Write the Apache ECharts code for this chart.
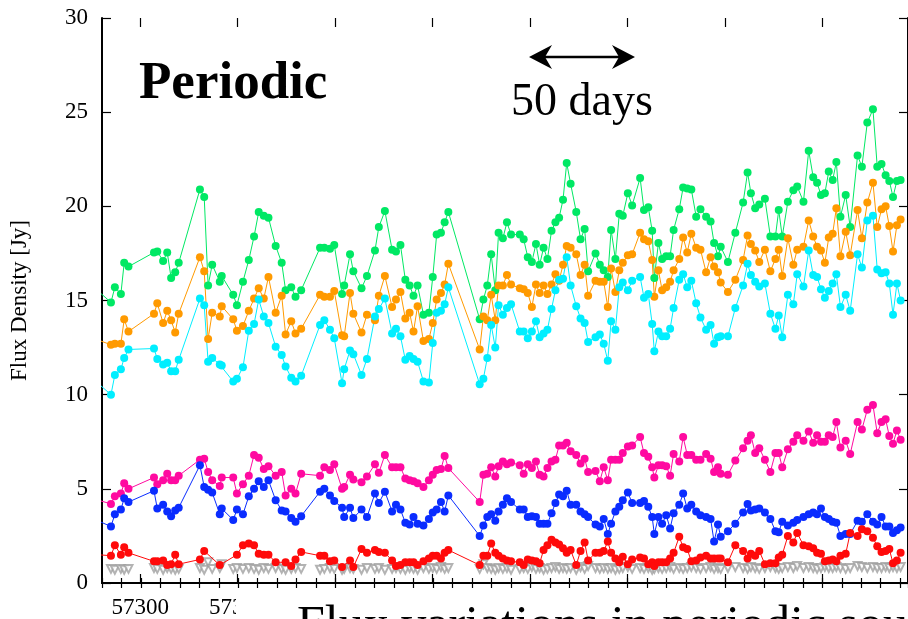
<!DOCTYPE html>
<html>
<head>
<meta charset="utf-8">
<script src="https://cdn.jsdelivr.net/npm/echarts@6/dist/echarts.min.js"></script>
<style>
html,body{margin:0;padding:0;background:#fff;}
#chart{width:908px;height:619px;}
</style>
</head>
<body>
<div id="chart"></div>
<script>
// Observation dates (MJD)
const days = [
57278.0, 57284.6, 57286.6, 57289.7, 57291.4, 57293.6, 57306.7, 57308.4, 57311.4, 57313.5,
57315.5, 57317.6, 57319.4, 57330.3, 57332.5, 57334.5, 57336.6, 57340.5, 57341.5, 57347.4,
57349.3, 57352.4, 57355.4, 57358.1, 57360.5, 57363.1, 57365.5, 57369.2, 57372.3, 57374.3,
57377.2, 57379.4, 57382.3, 57392.0, 57394.2, 57397.1, 57399.3, 57403.3, 57404.4, 57407.4,
57409.1, 57413.3, 57416.1, 57420.2, 57422.2, 57425.3, 57429.0, 57431.0, 57433.3, 57435.8,
57438.0, 57440.0, 57442.1, 57445.1, 57447.9, 57449.9, 57451.9, 57454.1, 57456.0, 57457.9,
57474.0, 57475.9, 57477.9, 57479.9, 57482.0, 57483.7, 57485.9, 57488.0, 57490.1, 57494.6,
57496.6, 57498.7, 57500.8, 57502.9, 57504.8, 57506.8, 57508.8, 57510.9, 57512.9, 57514.8,
57516.8, 57518.7, 57520.7, 57523.6, 57525.8, 57527.9, 57529.7, 57533.5, 57535.7, 57537.7,
57539.8, 57541.5, 57543.7, 57545.7, 57547.5, 57550.1, 57552.3, 57556.4, 57558.4, 57560.6,
57562.6, 57563.7, 57565.8, 57567.7, 57569.8, 57571.8, 57573.6, 57576.5, 57578.5, 57580.6,
57582.7, 57585.2, 57587.4, 57590.3, 57592.6, 57594.4, 57596.4, 57597.8, 57601.5, 57605.3,
57609.3, 57611.6, 57613.3, 57615.5, 57617.6, 57620.5, 57623.3, 57625.9, 57627.6, 57629.4,
57632.3, 57635.1, 57637.1, 57640.3, 57643.0, 57645.3, 57647.3, 57649.3, 57651.3, 57653.3,
57655.3, 57657.2, 57659.3, 57662.0, 57664.3, 57668.1, 57670.3, 57673.1, 57676.0, 57678.2,
57680.4, 57682.5, 57684.4, 57686.3, 57688.3, 57690.2
];

const greenFlux = [
15.5, 14.9, 15.7, 15.35, 17.0, 16.8, 17.55, 17.6, 17.1, 17.55,
16.2, 16.5, 17.0, 20.9, 20.5, 15.8, 16.9, 16.0, 16.3, 15.3,
14.75, 16.0, 17.15, 18.4, 19.7, 19.5, 19.4, 17.9, 17.0, 15.55,
15.7, 15.2, 15.55, 17.8, 17.8, 17.75, 17.95, 15.35, 15.8, 17.45,
16.55, 15.65, 16.3, 17.65, 18.9, 19.75, 17.7, 17.6, 17.95, 16.1,
15.8, 15.25, 15.8, 14.25, 14.35, 16.25, 18.5, 18.6, 19.15, 19.7,
14.0, 15.05, 15.8, 17.45, 15.55, 18.6, 18.3, 19.15, 18.5, 18.5,
18.25, 17.3, 17.05, 18.0, 16.9, 17.8, 17.2, 18.7, 19.15, 19.4,
20.35, 22.3, 21.2, 19.7, 18.25, 18.8, 16.55, 17.5, 16.9, 16.6,
16.25, 18.75, 17.2, 19.6, 19.5, 20.7, 20.05, 21.5, 19.8, 19.95,
18.7, 16.2, 18.05, 17.2, 17.35, 17.35, 18.75, 19.85, 21.0, 20.95,
20.9, 19.45, 19.85, 19.45, 19.2, 18.05, 17.35, 17.85, 17.05, 18.6,
20.2, 21.8, 20.7, 19.9, 20.1, 20.4, 18.4, 18.4, 19.8, 18.4,
20.25, 20.85, 21.05, 20.25, 22.95, 21.55, 21.25, 20.6, 20.7, 21.85,
21.4, 22.35, 19.45, 20.6, 18.9, 22.7, 22.1, 24.45, 25.15, 22.1,
22.25, 21.65, 21.35, 20.5, 21.35, 21.4
];

const orangeFlux = [
12.9, 12.65, 12.7, 12.7, 14.0, 13.35, 14.3, 14.85, 13.8, 14.45,
13.95, 13.3, 14.3, 17.3, 16.55, 12.95, 14.35, 14.15, 14.7, 14.0,
13.4, 13.65, 14.45, 15.1, 15.65, 15.1, 16.25, 14.35, 15.25, 13.2,
13.9, 13.25, 13.5, 15.3, 15.2, 15.2, 15.5, 13.15, 13.1, 15.4,
14.3, 13.3, 14.25, 13.95, 15.25, 16.3, 14.65, 15.05, 15.45, 14.05,
14.35, 13.35, 14.7, 12.85, 12.95, 13.8, 15.05, 15.4, 15.85, 16.95,
12.4, 14.15, 13.95, 15.3, 13.95, 15.8, 15.8, 16.35, 15.85, 15.65,
15.6, 15.4, 14.65, 15.85, 15.4, 15.8, 15.35, 15.85, 16.4, 16.05,
16.9, 17.9, 17.8, 17.45, 16.35, 16.9, 15.25, 16.05, 16.0, 16.0,
14.65, 16.7, 15.45, 16.6, 17.0, 17.4, 17.45, 18.6, 18.25, 18.15,
17.15, 15.2, 16.6, 15.55, 15.7, 16.0, 16.6, 17.2, 18.35, 17.55,
18.55, 17.8, 17.7, 16.5, 17.3, 16.8, 16.5, 15.95, 15.45, 16.1,
17.15, 18.45, 18.0, 17.65, 17.05, 17.7, 16.55, 17.2, 17.7, 16.3,
18.3, 16.9, 17.7, 17.85, 19.25, 18.4, 17.85, 17.65, 17.0, 18.35,
18.55, 19.9, 17.35, 18.65, 17.4, 19.8, 18.3, 20.2, 21.25, 18.9,
19.85, 20.0, 18.95, 17.6, 19.0, 19.3
];

const cyanFlux = [
10.6, 10.0, 11.05, 11.35, 11.95, 12.4, 12.45, 11.9, 11.6, 11.7,
11.25, 11.25, 11.85, 15.1, 14.75, 11.75, 11.95, 11.6, 11.55, 10.7,
10.85, 11.45, 13.4, 13.75, 15.05, 14.15, 13.8, 12.55, 12.1, 11.5,
10.9, 10.7, 11.0, 13.7, 13.95, 13.45, 13.0, 10.6, 11.35, 12.35,
12.15, 11.05, 11.9, 14.15, 14.55, 15.1, 13.25, 13.5, 13.1, 11.85,
12.05, 11.9, 11.75, 10.7, 10.65, 12.75, 14.35, 14.45, 14.8, 15.7,
10.55, 10.85, 11.95, 13.7, 12.5, 14.75, 14.25, 14.6, 14.8, 13.35,
13.35, 13.0, 13.35, 13.9, 13.05, 13.25, 13.45, 14.55, 15.55, 16.1,
16.15, 17.3, 15.8, 14.7, 14.05, 13.8, 12.8, 13.05, 13.2, 12.7,
11.8, 13.9, 13.45, 15.7, 15.95, 15.55, 16.05, 16.25, 15.15, 15.35,
13.75, 12.3, 13.35, 13.1, 13.1, 13.5, 14.6, 16.1, 16.4, 15.7,
16.05, 14.85, 14.1, 13.45, 13.7, 12.7, 13.05, 13.1, 13.1, 14.6,
15.8, 16.95, 16.35, 16.0, 15.75, 15.9, 14.3, 13.5, 14.2, 13.05,
15.3, 14.8, 16.4, 15.75, 17.65, 16.35, 16.25, 15.6, 15.15, 15.5,
15.9, 16.4, 14.65, 15.3, 14.45, 17.45, 16.75, 19.25, 19.5, 16.65,
16.45, 16.5, 15.9, 14.25, 15.9, 15.0
];

const magentaFlux = [
4.4, 4.2, 4.6, 4.75, 5.3, 5.0, 5.6, 5.25, 5.45, 5.8,
5.45, 5.45, 5.7, 6.55, 6.6, 5.9, 5.45, 5.15, 5.6, 5.6,
4.75, 5.25, 5.7, 6.8, 6.65, 6.05, 6.2, 5.7, 5.9, 4.65,
5.0, 4.75, 5.8, 5.7, 6.15, 6.0, 6.3, 5.0, 5.1, 5.75,
5.5, 5.35, 5.65, 6.3, 5.85, 6.8, 6.15, 6.15, 6.15, 5.55,
5.45, 5.4, 5.3, 5.1, 5.45, 5.75, 6.0, 6.05, 6.75, 6.1,
4.3, 5.75, 5.8, 6.15, 5.65, 6.2, 6.45, 6.3, 6.4, 6.25,
5.8, 6.3, 6.1, 6.45, 5.75, 5.65, 6.1, 6.45, 6.55, 7.3,
7.3, 7.45, 7.0, 6.8, 6.35, 6.6, 5.9, 5.95, 5.4, 6.15,
5.45, 6.55, 6.55, 6.55, 6.9, 7.25, 7.3, 7.75, 6.9, 6.7,
6.15, 5.6, 6.25, 6.25, 6.2, 5.7, 6.85, 6.45, 7.75, 6.8,
6.8, 6.55, 6.55, 6.85, 6.6, 5.9, 6.15, 5.8, 5.75, 6.5,
7.15, 7.55, 7.85, 6.9, 7.15, 6.55, 5.9, 6.9, 6.9, 6.15,
7.1, 7.5, 7.85, 7.55, 8.05, 7.45, 7.85, 7.5, 7.5, 7.85,
7.75, 8.55, 7.2, 7.55, 6.85, 8.55, 8.15, 9.2, 9.45, 7.95,
8.55, 8.7, 7.8, 7.4, 8.1, 7.6
];

const blueFlux = [
3.3, 3.0, 3.65, 3.9, 4.5, 4.3, 4.9, 3.95, 4.15, 3.8,
3.55, 3.85, 4.0, 6.25, 5.1, 4.95, 4.8, 3.65, 3.95, 3.35,
3.9, 3.65, 4.6, 5.0, 5.4, 5.1, 5.45, 4.4, 3.85, 3.8,
3.45, 3.25, 3.55, 4.85, 5.0, 4.65, 4.35, 4.0, 3.5, 4.0,
3.45, 3.9, 3.5, 4.75, 4.25, 4.85, 3.8, 4.15, 3.9, 3.2,
3.1, 3.5, 3.15, 3.05, 3.4, 3.75, 3.9, 4.3, 3.8, 4.65,
2.5, 3.05, 3.5, 3.65, 3.3, 3.8, 4.15, 4.5, 4.3, 3.9,
3.9, 3.5, 3.55, 3.5, 3.15, 3.15, 3.15, 3.7, 4.25, 4.7,
4.6, 4.9, 4.15, 4.15, 3.8, 3.65, 3.5, 3.1, 3.0, 3.4,
2.6, 3.15, 3.8, 4.05, 4.4, 4.8, 4.25, 4.25, 4.35, 4.05,
3.5, 2.6, 3.5, 3.15, 3.6, 2.9, 3.7, 4.15, 4.75, 3.95,
4.15, 3.8, 3.6, 3.5, 3.4, 2.2, 3.1, 2.45, 2.75, 3.15,
3.75, 4.2, 3.85, 3.9, 3.95, 3.75, 3.4, 2.75, 2.7, 3.25,
3.05, 3.2, 3.35, 3.5, 3.65, 3.75, 3.65, 3.95, 3.5, 3.4,
3.25, 3.2, 2.5, 2.6, 2.6, 3.3, 3.25, 3.65, 3.25, 3.1,
3.5, 3.0, 3.0, 2.65, 2.8, 2.95
];

const redFlux = [
1.5, 1.45, 2.0, 1.5, 1.9, 1.6, 1.15, 1.15, 1.2, 0.95,
1.0, 1.5, 1.0, 1.25, 1.7, null, null, 0.95, null, null,
1.5, 2.0, 2.1, 2.0, 1.55, 1.5, 1.5, 1.1, null, 1.1,
0.9, 1.25, 1.65, 1.45, 1.45, 1.15, 1.2, 0.85, null, 1.2,
0.85, 1.8, 1.6, 1.75, 1.65, 1.6, 1.2, 0.9, 0.95, 1.1,
1.1, 1.1, 0.95, 1.15, 1.3, 1.45, 1.45, 1.3, 1.6, 1.75,
0.95, 1.45, 1.45, 2.1, 1.6, 1.45, 1.3, 1.2, 1.15, 1.1,
0.95, 1.25, 1.2, 1.15, 1.05, 1.75, 2.0, 2.3, 2.15, 2.05,
1.85, 1.6, 1.75, 0.95, 1.7, 2.15, 1.2, 1.6, 1.6, 1.7,
2.2, 1.6, 1.3, 1.1, 1.4, 1.0, 1.25, 1.35, 1.3, 1.0,
1.1, 0.9, 1.1, 1.1, 1.1, 1.3, 1.6, 2.45, 1.9, 1.8,
1.15, 1.2, 1.35, 1.45, 1.3, 1.3, 1.3, 1.3, 1.1, 2.0,
1.7, 1.3, 1.55, 1.45, 1.7, 1.0, 1.05, 1.05, 1.35, 1.5,
2.5, 2.15, 2.65, 2.0, 1.95, 1.85, 1.6, 1.55, 1.15, 1.2,
1.25, 1.15, 1.45, 1.55, 2.65, 2.5, 2.85, 2.75, 2.4, 1.95,
1.65, 1.7, 1.8, 1.05, 1.2, 1.6
];

// Upper limits (grey open triangles)
const upperLimits = [
0.8, 0.75, 0.7, 0.75, 0.7, 0.75, 0.8, 0.75, 0.7, 0.8,
0.75, 0.7, 0.75, 0.8, 0.7, 1.1, 0.75, 0.8, 1.0, 0.75,
0.8, 0.75, 0.8, 0.75, 0.7, 0.8, 0.75, 0.8, 0.75, 0.7,
0.75, 0.8, 0.75, 0.7, 0.75, 0.8, 0.75, 0.7, 0.75, 0.8,
0.75, 0.7, 0.8, 0.75, 0.8, 0.7, 0.75, 0.8, 0.75, 0.7,
0.8, 0.75, 0.7, 0.8, 0.75, 0.8, 0.75, 0.85, 0.75, 0.8,
0.75, 1.0, 0.8, 0.75, 0.7, 0.8, 0.75, 0.8, 0.7, 0.75,
0.8, 0.75, 0.85, 0.75, 0.8, 0.7, 0.75, 0.8, 0.85, 0.75,
0.8, 0.75, 0.8, 0.7, 0.85, 0.75, 0.9, 0.8, 0.75, 0.8,
0.75, 0.8, 0.7, 0.75, 0.8, 0.85, 0.75, 0.8, 0.75, 0.8,
0.7, 0.75, 0.8, 0.75, 0.8, 0.85, 0.75, 0.8, 0.75, 0.8,
0.85, 0.8, 0.75, 0.8, 0.85, 0.75, 0.8, 0.75, 0.8, 0.85,
0.8, 0.75, 0.85, 0.8, 0.75, 0.8, 0.85, 0.8, 0.75, 0.8,
0.85, 0.8, 0.9, 0.8, 0.85, 0.8, 0.75, 0.8, 0.85, 0.8,
0.8, 0.85, 0.8, 0.75, 0.8, 0.9, 0.85, 0.8, 0.85, 0.8,
0.8, 0.85, 0.8, 0.85, 0.8, 0.85
];

// Axis settings (values)
const X_MIN = 57280, X_MAX = 57694;
const X_MAJOR_START = 57300, X_MAJOR_STEP = 50, X_MINOR_STEP = 10;
const Y_MIN = 0, Y_MAX = 30, Y_STEP = 5;

// Layout (pixels)
const PLOT_LEFT = 101, PLOT_TOP = 18, PLOT_W = 812, PLOT_H = 565;
const pxPerDay = PLOT_W / (X_MAX - X_MIN);
const majorLeft = PLOT_LEFT + (X_MAJOR_START - X_MIN) * pxPerDay;
const serif = 'Liberation Serif';

function pairs(arr) { return days.map((d, i) => [d, arr[i]]); }

function lineSeries(name, color, arr) {
  return {
    name: name, type: 'line', xAxisIndex: 0, yAxisIndex: 0,
    data: pairs(arr), connectNulls: true,
    symbol: 'circle', symbolSize: 8, showSymbol: true, showAllSymbol: true,
    lineStyle: { color: color, width: 1 },
    itemStyle: { color: color },
    emphasis: { disabled: true }, clip: true
  };
}

function xAxisDef(grid, pos, min, step, len, showLabel, showLine) {
  return {
    type: 'value', gridIndex: grid, position: pos, min: min, max: X_MAX, interval: step,
    axisLine: { show: showLine, lineStyle: { color: '#000', width: 2 } },
    axisTick: { show: true, inside: true, length: len, lineStyle: { color: '#000', width: 1.2 } },
    axisLabel: { show: showLabel, margin: 13, color: '#000', fontFamily: serif, fontSize: 23,
      showMaxLabel: false, formatter: v => String(v) },
    splitLine: { show: false }
  };
}

const chart = echarts.init(document.getElementById('chart'), null, { renderer: 'canvas' });
chart.setOption({
  animation: false,
  backgroundColor: '#fff',
  grid: [
    { left: PLOT_LEFT, top: PLOT_TOP, width: PLOT_W, height: PLOT_H, show: false },
    { left: majorLeft, top: PLOT_TOP, width: PLOT_W - (majorLeft - PLOT_LEFT), height: PLOT_H, show: false }
  ],
  xAxis: [
    xAxisDef(0, 'bottom', X_MIN, X_MINOR_STEP, 5, false, true),
    xAxisDef(0, 'top', X_MIN, X_MINOR_STEP, 5, false, true),
    xAxisDef(1, 'bottom', X_MAJOR_START, X_MAJOR_STEP, 9, true, false),
    xAxisDef(1, 'top', X_MAJOR_START, X_MAJOR_STEP, 9, false, false)
  ],
  yAxis: [
    {
      type: 'value', gridIndex: 0, position: 'left', min: Y_MIN, max: Y_MAX, interval: Y_STEP,
      axisLine: { show: true, lineStyle: { color: '#000', width: 2 } },
      axisTick: { show: true, inside: true, length: 9, lineStyle: { color: '#000', width: 1.2 } },
      axisLabel: { margin: 14, color: '#000', fontFamily: serif, fontSize: 23 },
      splitLine: { show: false },
      name: 'Flux Density [Jy]', nameLocation: 'middle', nameGap: 71,
      nameTextStyle: { fontFamily: serif, fontSize: 23, color: '#000' }
    },
    {
      type: 'value', gridIndex: 0, position: 'right', min: Y_MIN, max: Y_MAX, interval: Y_STEP,
      axisLine: { show: true, lineStyle: { color: '#000', width: 2 } },
      axisTick: { show: true, inside: true, length: 9, lineStyle: { color: '#000', width: 1.2 } },
      axisLabel: { show: false }, splitLine: { show: false }
    },
    {
      type: 'value', gridIndex: 1, min: Y_MIN, max: Y_MAX, show: false
    }
  ],
  series: [
    {
      name: 'upper limits', type: 'scatter', xAxisIndex: 0, yAxisIndex: 0,
      data: pairs(upperLimits), symbol: 'emptyTriangle', symbolRotate: 180, symbolSize: 8,
      itemStyle: { color: '#a0a0a0', borderColor: '#a0a0a0', borderWidth: 1 },
      emphasis: { disabled: true }, clip: true
    },
    lineSeries('green', '#00e864', greenFlux),
    lineSeries('orange', '#ff9a00', orangeFlux),
    lineSeries('cyan', '#00eeff', cyanFlux),
    lineSeries('magenta', '#ff0aa0', magentaFlux),
    lineSeries('blue', '#0a2cff', blueFlux),
    lineSeries('red', '#ff0a0a', redFlux)
  ],
  graphic: [
    { type: 'text', left: 139, top: 58, z: 100,
      style: { text: 'Periodic', font: 'bold 53px "Liberation Serif"', fill: '#000' } },
    { type: 'text', left: 511, top: 80, z: 100,
      style: { text: '50 days', font: '46px "Liberation Serif"', fill: '#000' } },
    { type: 'line', z: 100, shape: { x1: 540, y1: 57, x2: 624, y2: 57 },
      style: { stroke: '#000', lineWidth: 2.5 } },
    { type: 'polygon', z: 100, shape: { points: [[529, 57], [552, 45], [545, 57], [552, 69]] },
      style: { fill: '#000' } },
    { type: 'polygon', z: 100, shape: { points: [[635, 57], [612, 45], [619, 57], [612, 69]] },
      style: { fill: '#000' } },
    { type: 'rect', z: 100, shape: { x: 236, y: 593, width: 680, height: 30 },
      style: { fill: '#fff' } },
    { type: 'text', left: 297, top: 602, z: 101,
      style: { text: 'Flux variations in periodic sources', font: '50px "Liberation Serif"', fill: '#000' } }
  ]
});
</script>
</body>
</html>
